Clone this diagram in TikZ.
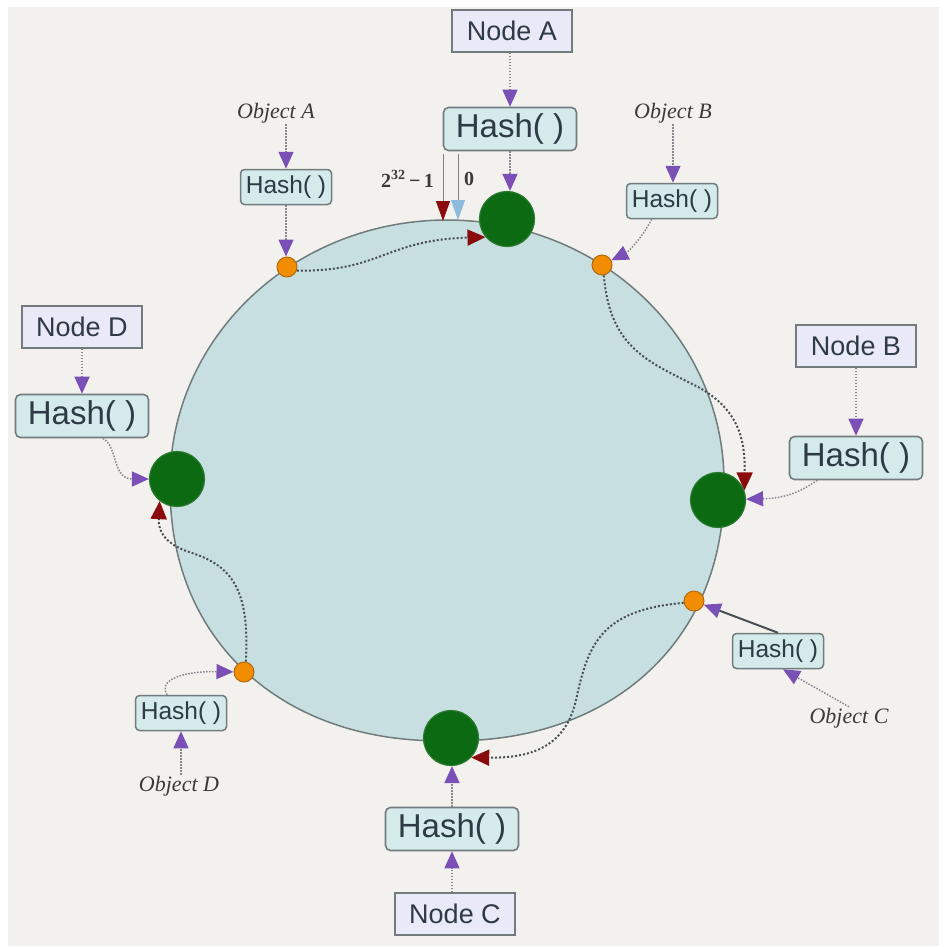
\documentclass[tikz,border=0pt]{standalone}
\usepackage{fontspec}
\setmainfont{Liberation Serif}
\newfontfamily\sansf{Liberation Sans}
\usetikzlibrary{arrows.meta}
\definecolor{bgc}{HTML}{F3F1EE}
\definecolor{ringfill}{HTML}{C8DFE1}
\definecolor{rim}{HTML}{6F7C7C}
\definecolor{nodefill}{HTML}{E9E9F8}
\definecolor{hashfill}{HTML}{D4EAEB}
\definecolor{boxline}{HTML}{737B7E}
\definecolor{txt}{HTML}{2E3A44}
\definecolor{objtxt}{HTML}{3A3A3A}
\definecolor{srvgreen}{HTML}{0B6A12}
\definecolor{srvedge}{HTML}{2A7A30}
\definecolor{dotorange}{HTML}{F28C00}
\definecolor{dotedge}{HTML}{B06A10}
\definecolor{purp}{HTML}{7B50B6}
\definecolor{shaft}{HTML}{8A8490}
\definecolor{redtip}{HTML}{8A0B0B}
\definecolor{bluetip}{HTML}{8EBBDD}
\definecolor{pathgray}{HTML}{4A4F55}
\begin{document}
\begin{tikzpicture}[x=1pt,y=-1pt,
  nodebox/.style={draw=boxline, line width=1.6pt, fill=nodefill, text=txt,
    font=\sansf\fontsize{27}{30}\selectfont, inner sep=0pt,
    minimum width=120pt, minimum height=42pt},
  bighash/.style={draw=boxline, line width=1.6pt, fill=hashfill, rounded corners=5pt,
    text=txt, font=\sansf\fontsize{33}{36}\selectfont, inner sep=0pt,
    minimum width=133pt, minimum height=43pt},
  smallhash/.style={draw=boxline, line width=1.5pt, fill=hashfill, rounded corners=4pt,
    text=txt, font=\sansf\fontsize{24.5}{26}\selectfont, inner sep=0pt,
    minimum width=91pt, minimum height=35pt},
  objlabel/.style={font=\itshape\fontsize{22}{24}\selectfont, text=objtxt, inner sep=1pt},
  server/.style={circle, fill=srvgreen, draw=srvedge, line width=1.2pt,
    minimum size=55pt, inner sep=0pt},
  keydot/.style={circle, fill=dotorange, draw=dotedge, line width=1pt,
    minimum size=20pt, inner sep=0pt},
  parrow/.style={draw=shaft, line width=1.5pt, dash pattern=on 1.5pt off 1.5pt,
    -{Triangle[length=17pt,width=15pt,color=purp]}},
  sarrow/.style={draw=pathgray, line width=2pt,
    -{Triangle[length=17pt,width=15pt,color=purp]}},
  walk/.style={draw=pathgray, line width=2pt, dash pattern=on 2pt off 2pt,
    -{Triangle[length=18pt,width=16pt,color=redtip]}},
  marker/.style={draw=gray, line width=1pt},
  numlbl/.style={font=\bfseries\fontsize{20}{22}\selectfont, text=objtxt, inner sep=0pt}
]
\useasboundingbox (0,0) rectangle (950,946);
\fill[white] (0,0) rectangle (950,946);
\fill[bgc] (8,7) rectangle (939,946);

% ring: upper half elliptic, lower half slightly squarer
\draw[draw=rim, fill=ringfill, line width=1.5pt]
  plot[domain=0.5:179.5, samples=90, smooth]
    ({447+277*sign(cos(\x))*pow(abs(cos(\x))+0.00001,0.909)},
     {482+259*pow(sin(\x),0.909)})
  -- plot[domain=180:360, samples=90, smooth]
    ({447+277*cos(\x)}, {482+262*sin(\x)}) -- cycle;

% servers and keys
\node[server] (gA) at (507,219) {};
\node[server] (gB) at (718,500) {};
\node[server] (gC) at (451,738) {};
\node[server] (gD) at (177,479) {};
\node[keydot] (dA) at (287,267) {};
\node[keydot] (dB) at (602,265) {};
\node[keydot] (dC) at (694,601) {};
\node[keydot] (dD) at (244,672) {};

% walks along the ring
\draw[walk] (dA.-20) .. controls (380,272) and (385,240) .. (gA.220);
\draw[walk] (dB.-80) .. controls (610,350) and (650,362) .. (700,388)
               .. controls (742,412) and (745,445) .. (gB.20);
\draw[walk] (dC.190) .. controls (600,610) and (588,645) .. (576,700)
               .. controls (565,748) and (530,758) .. (gC.-44);
\draw[walk] (dD.80) .. controls (250,590) and (232,566) .. (192,553)
               .. controls (166,545) and (158,532) .. (gD.232);

% boxes
\node[nodebox] (nA) at (512,31) {Node A};
\node[bighash] (hA) at (510,129) {Hash( )};
\node[nodebox] (nD) at (82,327) {Node D};
\node[bighash] (hD) at (82,416) {Hash( )};
\node[nodebox] (nB) at (856,346) {Node B};
\node[bighash] (hB) at (856,458) {Hash( )};
\node[bighash] (hC) at (452,829) {Hash( )};
\node[nodebox] (nC) at (455,914) {Node C};

\node[smallhash] (hsA) at (286,187) {Hash( )};
\node[smallhash] (hsB) at (672,201) {Hash( )};
\node[smallhash] (hsC) at (778,651) {Hash( )};
\node[smallhash] (hsD) at (181,713) {Hash( )};

\node[objlabel] (oA) at (276,113) {Object A};
\node[objlabel] (oB) at (673,113) {Object B};
\node[objlabel] (oC) at (849,718) {Object C};
\node[objlabel] (oD) at (179,786) {Object D};

% ring start markers
\node[numlbl, anchor=east] (lmax) at (434,179) {2\textsuperscript{32}\,\textminus\,1};
\node[numlbl, anchor=west] (lzero) at (464,179) {0};
\coordinate (m1s) at (443,154);
\coordinate (m1e) at (443,221);
\coordinate (m2s) at (458,154);
\coordinate (m2e) at (458,220);
\draw[marker, -{Triangle[length=20pt,width=14pt,color=redtip]}] (m1s) -- (m1e);
\draw[marker, -{Triangle[length=20pt,width=14pt,color=bluetip]}] (m2s) -- (m2e);

% hashing arrows
\draw[parrow] (nA.south -| hA.north) -- (hA.north);
\draw[parrow] (hA.south) -- (hA.south |- gA.north);
\draw[parrow] (nD.south) -- (nD.south |- hD.north);
\draw[parrow] (hD.-47) .. controls (118,446) and (112,479) .. (gD);
\draw[parrow] (nB.south) -- (nB.south |- hB.north);
\draw[parrow] (hB.-150) .. controls (802,490) and (790,498) .. (gB);
\draw[parrow] (nC.north -| hC.south) -- (hC.south);
\draw[parrow] (hC.north) -- (hC.north |- gC.south);

\draw[parrow] (oA.south -| hsA.north) -- (hsA.north);
\draw[parrow] (hsA.south) -- (hsA.south |- dA.north);
\draw[parrow] (oB.south) -- (oB.south |- hsB.north);
\draw[parrow] (hsB.222) .. controls (642,238) and (628,252) .. (dB);
\draw[sarrow] (hsC.north) -- (dC);
\draw[parrow] (oC.north) -- (hsC.-75);
\draw[parrow] (oD.north -| hsD.south) -- (hsD.south);
\draw[parrow] (hsD.127) .. controls (158,682) and (178,671) .. (dD);
\end{tikzpicture}
\end{document}
